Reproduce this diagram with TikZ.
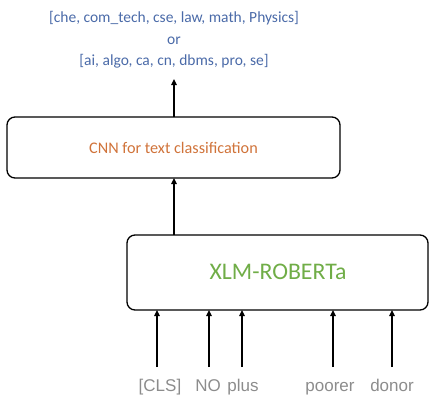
\documentclass[tikz,border=0pt]{standalone}
\usepackage{fontspec}
\setmainfont{Carlito}
\newfontfamily\arialf{Liberation Sans}
\usetikzlibrary{arrows.meta}
\definecolor{lblblue}{HTML}{4A6AA8}
\definecolor{cnnorange}{HTML}{D0733A}
\definecolor{xlmgreen}{HTML}{70AD47}
\definecolor{tokgray}{HTML}{8C8C8C}
\begin{document}
\begin{tikzpicture}[x=1pt,y=-1pt,
  box/.style={draw,line width=1.3pt,rounded corners=8pt},
  conn/.style={line width=1.3pt,-{Triangle[length=6pt,width=5.5pt]}},
  tok/.style={font=\arialf\fontsize{17}{19}\selectfont,text=tokgray,inner sep=0pt,anchor=base}]
\useasboundingbox (0,0) rectangle (430,394);
\node[align=center,text=lblblue,font=\fontsize{15.5}{21.5}\selectfont,inner sep=0pt] (out) at (174,40)
  {{[che, com\_tech, cse, law, math, Physics]}\\or\\{}{[ai, algo, ca, cn, dbms, pro, se]}};
\coordinate (outb) at (174,79);
\draw[box] (7,117) rectangle (340,178);
\node[text=cnnorange,font=\fontsize{16.2}{18}\selectfont] (cnn) at (173.5,147.5) {CNN for text classification};
\coordinate (cnnt) at (174,117);
\coordinate (cnnb) at (174,178);
\draw[box] (127,235) rectangle (428,310);
\node[text=xlmgreen,font=\fontsize{23.8}{26}\selectfont] (xlm) at (278,272) {XLM-ROBERTa};
\coordinate (xlmt) at (174,235);
\draw[conn] (cnnt) -- (outb);
\draw[conn] (xlmt) -- (cnnb);
\foreach \n/\x/\t/\tx in {a/157/{[CLS]}/160, b/209/NO/208, c/242/plus/243, d/333/poorer/330, e/392/donor/392}{
  \node[tok] (t\n) at (\tx,391) {\t};
  \coordinate (s\n) at (\x,367);
  \coordinate (e\n) at (\x,310);
  \draw[conn] (s\n) -- (e\n);
}
\end{tikzpicture}
\end{document}
